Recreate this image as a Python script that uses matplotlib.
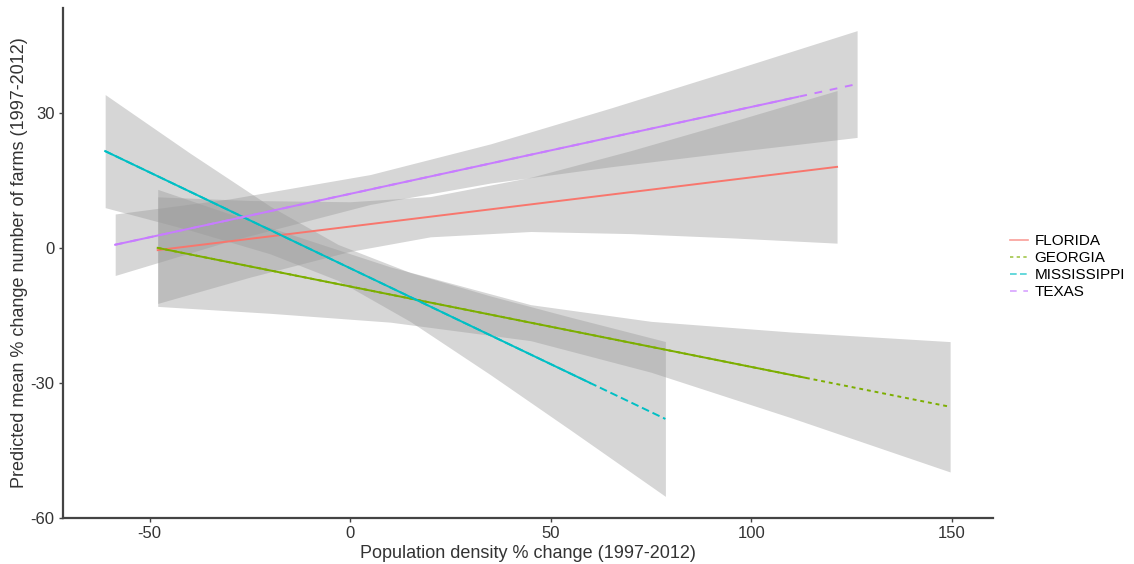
import matplotlib
matplotlib.use("Agg")
import matplotlib.pyplot as plt
from matplotlib.patches import Rectangle
from matplotlib.lines import Line2D

plt.rcParams['font.family'] = ['Liberation Sans', 'DejaVu Sans']
plt.rcParams['axes.unicode_minus'] = False

states = ['FLORIDA', 'GEORGIA', 'MISSISSIPPI', 'TEXAS']
colors = ['#F8766D', '#7CAE00', '#00BFC4', '#C77CFF']
dashes = [None, (2, 2), (4, 2), (4, 4)]

# fitted line: start and end of each state's density range
fit_x = {
    'FLORIDA': [-48, 121.4],
    'GEORGIA': [-48, 149.6],
    'MISSISSIPPI': [-61.1, 78.6],
    'TEXAS': [-58.6, 126.4],
}
fit_y = {
    'FLORIDA': [-0.5, 18.0],
    'GEORGIA': [0.0, -35.3],
    'MISSISSIPPI': [21.5, -38.0],
    'TEXAS': [0.7, 36.4],
}
# where the line stops being drawn solid
solid_to = {'FLORIDA': 121.4, 'GEORGIA': 114, 'MISSISSIPPI': 60, 'TEXAS': 112}

# 95% confidence bands
band_x = {
    'FLORIDA': [-48, -25, 0, 20, 45, 70, 95, 121.4],
    'GEORGIA': [-48, -20, 10, 45, 75, 110, 149.6],
    'MISSISSIPPI': [-61.1, -40, -20, -3, 15, 35, 55, 78.6],
    'TEXAS': [-58.6, -30, 5, 35, 65, 95, 126.4],
}
band_lo = {
    'FLORIDA': [-12.34, -6.51, -0.77, 2.46, 3.64, 3.17, 2.23, 1.05],
    'GEORGIA': [-13.0, -14.53, -16.5, -20.61, -27.62, -37.75, -49.78],
    'MISSISSIPPI': [8.94, 3.94, -1.31, -7.25, -16.36, -28.19, -40.49, -55.2],
    'TEXAS': [-6.13, 1.55, 9.65, 14.41, 18.02, 21.27, 24.54],
}
band_hi = {
    'FLORIDA': [11.34, 10.53, 10.25, 11.40, 15.68, 21.61, 28.01, 34.95],
    'GEORGIA': [13.0, 4.53, -4.22, -12.61, -16.32, -18.69, -20.82],
    'MISSISSIPPI': [34.06, 21.08, 9.29, 0.75, -5.48, -10.69, -15.41, -20.8],
    'TEXAS': [7.53, 10.89, 16.29, 23.11, 31.08, 39.41, 48.26],
}

x_ticks = [-50, 0, 50, 100, 150]
y_ticks = [-60, -30, 0, 30]

fig = plt.figure(figsize=(11.34, 5.64), dpi=100)
ax = fig.add_axes([0.0556, 0.0816, 0.8201, 0.9043])

for st, col, ds in zip(states, colors, dashes):
    ax.fill_between(band_x[st], band_lo[st], band_hi[st],
                    color='#999999', alpha=0.4, linewidth=0)
    if ds is None:
        ax.plot(fit_x[st], fit_y[st], color=col, lw=1.4)
    else:
        ax.plot(fit_x[st], fit_y[st], color=col, lw=1.4, dashes=ds)
        solid, = ax.plot(fit_x[st], fit_y[st], color=col, lw=1.4)
        clip = Rectangle((fit_x[st][0] - 1, -100), solid_to[st] - fit_x[st][0] + 1, 200,
                         transform=ax.transData)
        solid.set_clip_path(clip)

ax.set_xlim(-71.6, 160.3)
ax.set_ylim(-60, 53.3)
ax.set_xticks(x_ticks)
ax.set_yticks(y_ticks)

for side in ['top', 'right']:
    ax.spines[side].set_visible(False)
for side in ['left', 'bottom']:
    ax.spines[side].set_color('#444444')
    ax.spines[side].set_linewidth(1.6)
ax.tick_params(length=3, width=1, color='#444444', labelsize=12,
               labelcolor='#333333', pad=3)

ax.set_xlabel('Population density % change (1997-2012)', fontsize=13,
              color='#333333', labelpad=3)
ax.set_ylabel('Predicted mean % change number of farms (1997-2012)', fontsize=13,
              color='#333333', labelpad=2)

handles = []
for st, col, ds in zip(states, colors, dashes):
    if ds is None:
        handles.append(Line2D([], [], color=col, lw=1.2, alpha=0.7))
    else:
        handles.append(Line2D([], [], color=col, lw=1.2, alpha=0.7, dashes=ds))
fig.legend(handles, states, loc='center left', bbox_to_anchor=(0.884, 0.527),
           frameon=False, fontsize=11, handlelength=1.2, handletextpad=0.4,
           labelspacing=0.2, borderpad=0)

fig.savefig('out.png', dpi=100)
